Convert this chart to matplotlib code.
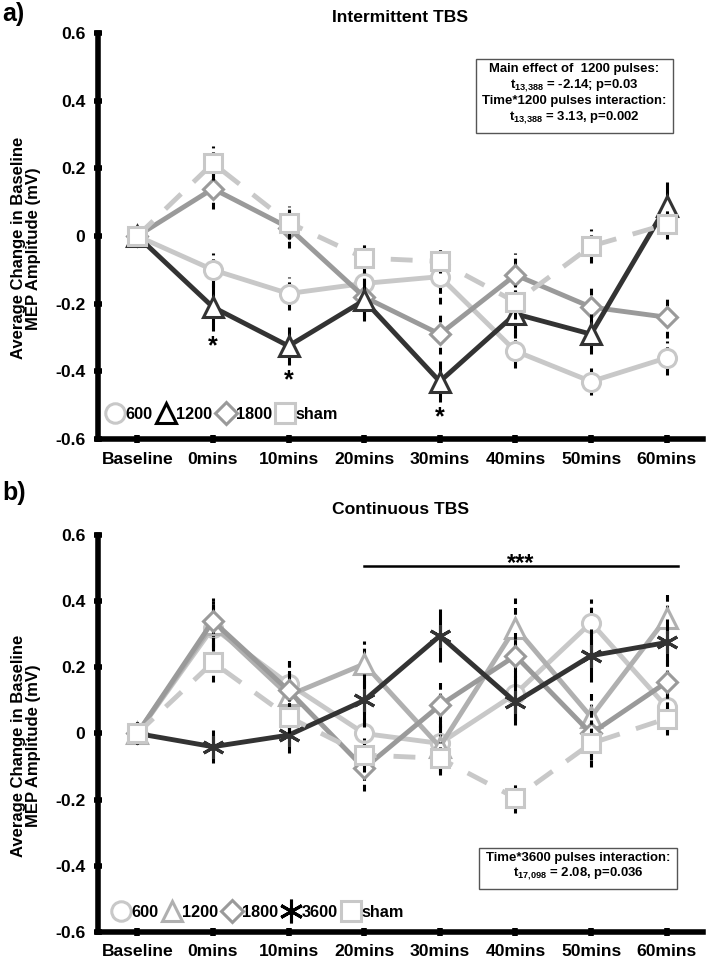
import matplotlib
matplotlib.use("Agg")
import matplotlib.pyplot as plt
from matplotlib import font_manager
from matplotlib.lines import Line2D
import numpy as np

# narrow bold face like the original when we have it
_names = {f.name for f in font_manager.fontManager.ttflist}
if "Liberation Sans Narrow" in _names:
    NARROW, FS = "Liberation Sans Narrow", 1.0
else:
    NARROW, FS = "Liberation Sans", 0.9
WIDE = ["Liberation Sans", "DejaVu Sans"]

plt.rcParams["mathtext.fontset"] = "custom"
plt.rcParams["mathtext.rm"] = NARROW + ":bold"
plt.rcParams["mathtext.it"] = NARROW + ":bold"
plt.rcParams["mathtext.bf"] = NARROW + ":bold"

time_labels = ["Baseline", "0mins", "10mins", "20mins", "30mins", "40mins", "50mins", "60mins"]

# intermittent TBS
itbs_600 = [0, -0.10, -0.17, -0.14, -0.12, -0.34, -0.43, -0.36]
itbs_600_se = [0, 0.05, 0.05, 0.05, 0.08, 0.05, 0.04, 0.05]
itbs_1200 = [0, -0.21, -0.325, -0.19, -0.43, -0.23, -0.29, 0.09]
itbs_1200_se = [0, 0.07, 0.055, 0.06, 0.06, 0.07, 0.06, 0.07]
itbs_1800 = [0, 0.14, 0.025, -0.18, -0.29, -0.115, -0.21, -0.24]
itbs_1800_se = [0, 0.06, 0.06, 0.06, 0.06, 0.065, 0.06, 0.06]
itbs_sham = [0, 0.215, 0.04, -0.065, -0.075, -0.195, -0.03, 0.035]
itbs_sham_se = [0, 0.05, 0.05, 0.045, 0.035, 0.05, 0.05, 0.045]
itbs_sig = [1, 2, 4]  # time points with * under 1200

# continuous TBS
ctbs_600 = [0, 0.32, 0.15, 0.0, -0.03, 0.12, 0.335, 0.08]
ctbs_600_se = [0, 0.07, 0.08, 0.07, 0.08, 0.08, 0.07, 0.08]
ctbs_1200 = [0, 0.33, 0.115, 0.21, -0.04, 0.32, 0.05, 0.35]
ctbs_1200_se = [0, 0.07, 0.08, 0.07, 0.08, 0.09, 0.08, 0.08]
ctbs_1800 = [0, 0.34, 0.13, -0.105, 0.085, 0.235, 0.0, 0.155]
ctbs_1800_se = [0, 0.07, 0.09, 0.07, 0.08, 0.08, 0.08, 0.08]
ctbs_3600 = [0, -0.04, -0.005, 0.1, 0.295, 0.095, 0.235, 0.275]
ctbs_3600_se = [0, 0.05, 0.055, 0.08, 0.08, 0.07, 0.08, 0.07]
ctbs_sham = [0, 0.215, 0.05, -0.065, -0.075, -0.195, -0.03, 0.045]
ctbs_sham_se = [0, 0.06, 0.05, 0.05, 0.05, 0.045, 0.07, 0.05]
ctbs_bracket = (3, 7.15, 0.505)  # start idx, end idx, level for ***

LIGHT = "#c8c8c8"
MID = "#9a9a9a"
MID_LIGHT = "#b0b0b0"
DARK = "#333333"
STAR = (6, 2, 0)

x = np.arange(len(time_labels))


def style_axes(ax, title, title_pad):
    ax.set_xlim(-0.52, 7.48)
    ax.set_ylim(-0.6, 0.6)
    ax.set_yticks([0.6, 0.4, 0.2, 0, -0.2, -0.4, -0.6])
    ax.set_yticklabels(["0.6", "0.4", "0.2", "0", "-0.2", "-0.4", "-0.6"])
    ax.set_xticks(x)
    ax.set_xticklabels(time_labels)
    for lab in ax.get_xticklabels() + ax.get_yticklabels():
        lab.set_family(NARROW)
        lab.set_fontweight("bold")
        lab.set_fontsize(14 * FS)
    ax.spines["top"].set_visible(False)
    ax.spines["right"].set_visible(False)
    ax.spines["left"].set_linewidth(4)
    ax.spines["bottom"].set_linewidth(4)
    ax.tick_params(direction="inout", length=6, width=4, pad=6)
    ax.set_ylabel("Average Change in Baseline\nMEP Amplitude (mV)",
                  family=WIDE, fontweight="bold", fontsize=12, linespacing=1.0)
    ax.yaxis.set_label_coords(-0.095, 0.47)
    ax.set_title(title, family=NARROW, fontweight="bold", fontsize=14 * FS,
                 pad=title_pad)
    ax.patch.set_alpha(0)


def draw_series(ax, vals, se, color, marker, ms, ls="-", solid_err=False, z=3):
    eb = ax.errorbar(x, vals, yerr=se, fmt="none", ecolor="black",
                     elinewidth=2.2, capsize=0, zorder=z - 0.5)
    if not solid_err:
        eb[2][0].set_linestyle((0, (2.2, 1.3)))
    line_ls = (0, (4.5, 3.5)) if ls == "--" else "-"
    mfc = "none" if marker == STAR else "white"
    ax.plot(x, vals, color=color, lw=3.5, ls=line_ls, marker=marker, ms=ms,
            mfc=mfc, mec=color, mew=2.2, zorder=z)


def add_legend(ax, entries, anchor):
    handles = []
    labels = []
    for label, color, marker, ms in entries:
        mfc = "none" if marker == STAR else "white"
        handles.append(Line2D([], [], ls="none", marker=marker, ms=ms, mfc=mfc,
                              mec=color, mew=2.2))
        labels.append(label)
    ax.legend(handles, labels, ncol=len(entries), loc="center left",
              bbox_to_anchor=anchor, frameon=False, handlelength=1.0,
              handletextpad=0.15, columnspacing=0.3, borderpad=0,
              borderaxespad=0,
              prop={"family": NARROW, "weight": "bold", "size": 13 * FS})


def stat_box(text, xc, yc):
    fig.text(xc, yc, text, ha="center", va="center", family=NARROW,
             fontweight="bold", fontsize=10.5 * FS, linespacing=1.2,
             bbox=dict(boxstyle="square,pad=0.5", fc="white", ec="#555555", lw=1))


fig = plt.figure(figsize=(7.07, 9.66), dpi=100)

# panel a
ax = fig.add_axes([0.1386, 0.5455, 0.8557, 0.4203])
style_axes(ax, "Intermittent TBS", 8)
draw_series(ax, itbs_600, itbs_600_se, LIGHT, "o", 13, z=3)
draw_series(ax, itbs_1800, itbs_1800_se, MID, "D", 10, z=4)
draw_series(ax, itbs_1200, itbs_1200_se, DARK, "^", 14, solid_err=True, z=5)
draw_series(ax, itbs_sham, itbs_sham_se, LIGHT, "s", 13, ls="--", z=6)
for i in itbs_sig:
    ax.text(x[i], itbs_1200[i] - itbs_1200_se[i] - 0.045, "*", ha="center",
            va="center", fontsize=18, fontweight="bold", family=WIDE)
add_legend(ax, [("600", LIGHT, "o", 14), ("1200", "black", "^", 15),
                ("1800", MID, "D", 11), ("sham", LIGHT, "s", 15)],
           (0.015, 0.06))
stat_box("Main effect of  1200 pulses:\n"
         "t$_{13{,}388}$ = -2.14; p=0.03\n"
         "Time*1200 pulses interaction:\n"
         "t$_{13{,}388}$ = 3.13, p=0.002", 0.8126, 0.9022)
fig.text(0.003, 0.985, "a)", family=WIDE, fontweight="bold", fontsize=18,
         va="center", ha="left")

# panel b
ax = fig.add_axes([0.1386, 0.0352, 0.8557, 0.4110])
style_axes(ax, "Continuous TBS", 15)
draw_series(ax, ctbs_600, ctbs_600_se, LIGHT, "o", 13, z=3)
draw_series(ax, ctbs_1200, ctbs_1200_se, MID_LIGHT, "^", 14, z=4)
draw_series(ax, ctbs_1800, ctbs_1800_se, MID, "D", 10, z=5)
draw_series(ax, ctbs_3600, ctbs_3600_se, DARK, STAR, 16, solid_err=True, z=6)
draw_series(ax, ctbs_sham, ctbs_sham_se, LIGHT, "s", 13, ls="--", z=7)
x0, x1, yb = ctbs_bracket
ax.plot([x0, x1], [yb, yb], color="black", lw=1.8)
ax.text((x0 + x1) / 2, yb - 0.012, "***", ha="center", va="baseline",
        fontsize=17, fontweight="bold", family=WIDE)
add_legend(ax, [("600", LIGHT, "o", 14), ("1200", MID_LIGHT, "^", 15),
                ("1800", MID, "D", 11), ("3600", "black", STAR, 17),
                ("sham", LIGHT, "s", 15)],
           (0.025, 0.05))
stat_box("Time*3600 pulses interaction:\n"
         "t$_{17{,}098}$ = 2.08, p=0.036", 0.8175, 0.1025)
fig.text(0.003, 0.49, "b)", family=WIDE, fontweight="bold", fontsize=18,
         va="center", ha="left")

fig.savefig("out.png", dpi=100)
